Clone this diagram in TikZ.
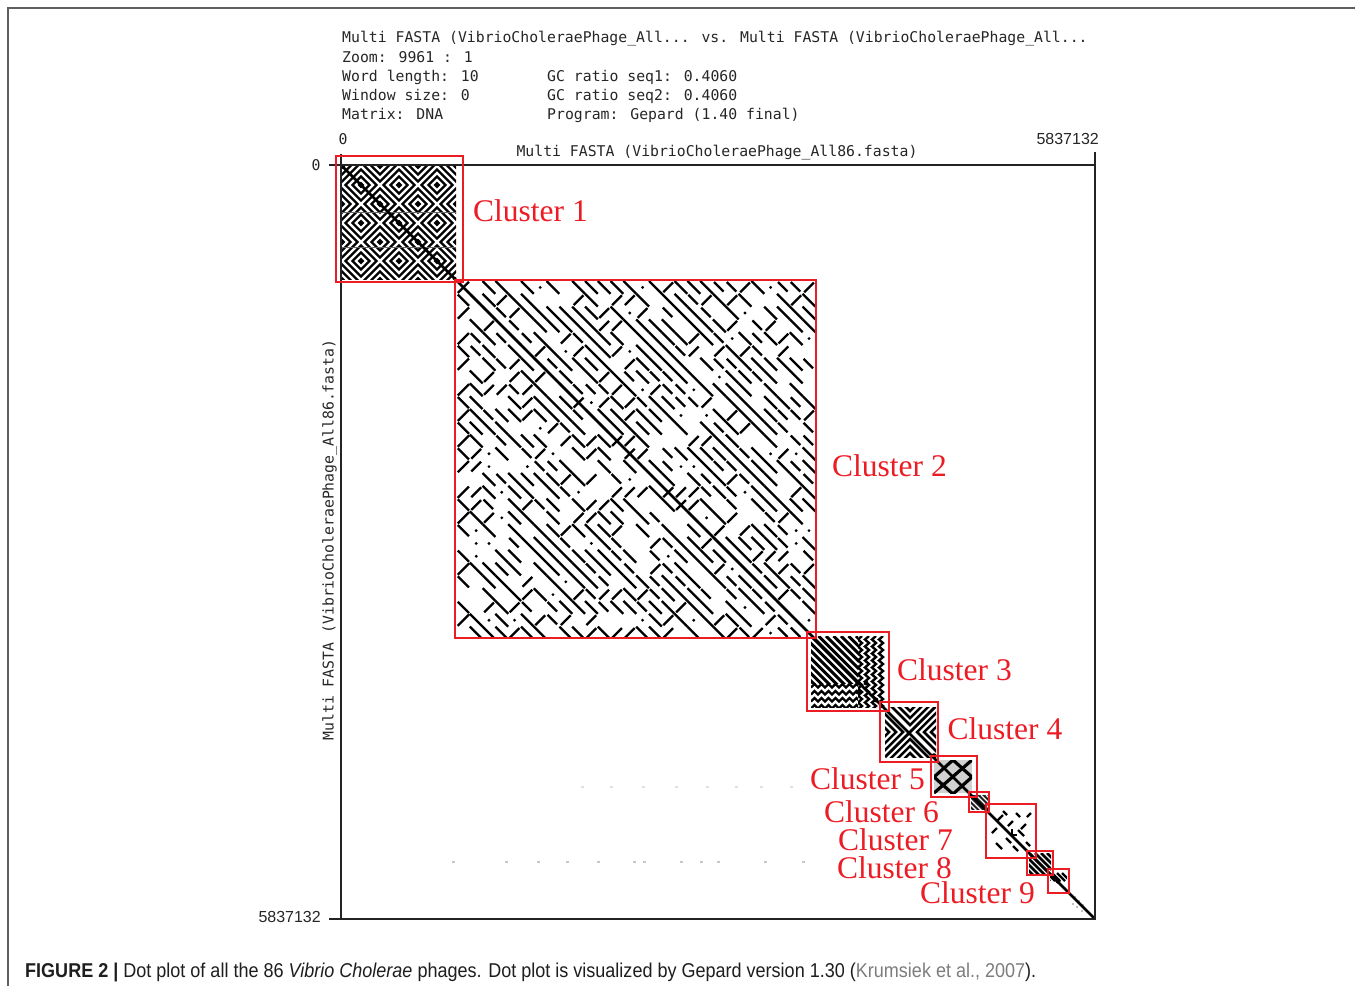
\documentclass[tikz,border=0pt]{standalone}
\usepackage{graphicx}
\usepackage{fontspec}
\setmainfont{Liberation Serif}
\newfontfamily\monof{DejaVu Sans Mono}
\newfontfamily\capf{Liberation Sans}
\usetikzlibrary{calc}
\definecolor{clred}{RGB}{236,28,36}
\definecolor{axisgray}{RGB}{35,35,35}
\definecolor{framegray}{RGB}{95,95,95}
\definecolor{capgray}{RGB}{125,125,125}
\definecolor{captext}{RGB}{30,30,30}
\begin{document}
\begin{tikzpicture}[x=1pt,y=-1pt,
  monotext/.style={font=\monof\fontsize{14.8}{17}\selectfont, inner sep=0pt, text=black!85},
  numtext/.style={font=\capf\fontsize{16}{18}\selectfont, inner sep=0pt, text=black!85},
  cbox/.style={draw=clred, line width=1.4pt},
  clabel/.style={font=\fontsize{31.5}{34}\selectfont, text=clred, inner sep=0pt, anchor=base west},
  dotline/.style={line width=2.3pt, black},
  faint/.style={fill=black!22},
]
\useasboundingbox (0,0) rectangle (1355,986);
\fill[white] (0,0) rectangle (1355,986);
% page frame
\draw[framegray, line width=1.2pt] (8,986) -- (8,8) -- (1355,8);

% header
\node[monotext, anchor=base west] (h1) at (342,42.5) {Multi FASTA (VibrioCholeraePhage\_All... vs. Multi FASTA (VibrioCholeraePhage\_All...};
\node[monotext, anchor=base west] (h2) at (342,62) {Zoom: 9961 : 1};
\node[monotext, anchor=base west] (h3) at (342,81) {Word length: 10};
\node[monotext, anchor=base west] (h4) at (342,100) {Window size: 0};
\node[monotext, anchor=base west] (h5) at (342,119.5) {Matrix: DNA};
\node[monotext, anchor=base west] (g1) at (547,81) {GC ratio seq1: 0.4060};
\node[monotext, anchor=base west] (g2) at (547,100) {GC ratio seq2: 0.4060};
\node[monotext, anchor=base west] (g3) at (547,119.5) {Program: Gepard (1.40 final)};

% axes
\coordinate (tl) at (341,165);
\coordinate (br) at (1095,919);
\node[monotext, anchor=base] (x0) at (343,144) {0};
\node[numtext, anchor=base east] (xmax) at (1099,144) {5837132};
\node[monotext, anchor=base] (y0) at (316,170.5) {0};
\node[numtext, anchor=base east] (ymax) at (321,922.5) {5837132};
\node[monotext, anchor=base] (xlab) at (717,156.5) {Multi FASTA (VibrioCholeraePhage\_All86.fasta)};
\node[monotext, anchor=base, rotate=90] (ylab) at (333.5,540) {Multi FASTA (VibrioCholeraePhage\_All86.fasta)};

% ---------- dot plot patterns ----------
% cluster 1 : concentric diamond tiling
\begin{scope}
\clip (342,166) rectangle (456,279);
\foreach \i in {-1,...,3}{
  \foreach \j in {-1,...,3}{
    \foreach \dx/\dy in {0/0,19/19}{
      \foreach \r in {1.8,8.5,15.5}{
        \draw[line width=2.2pt, shift={(342+19+38*\i+\dx,166+19+38*\j+\dy)}]
          (\r,0) -- (0,\r) -- (-\r,0) -- (0,-\r) -- cycle;
      }
    }
  }
}
\draw[black!60, line width=1pt] (342,212) -- (456,212);
\draw[black!60, line width=1pt] (342,247) -- (456,247);
\end{scope}

% cluster 2 : diagonal dashes
\pgfmathsetseed{23}
\begin{scope}
\clip (456,281) rectangle (815,637);
\foreach \i in {0,...,27}{
  \foreach \j in {0,...,27}{
    \pgfmathtruncatemacro\rr{random(1,20)}
    \pgfmathsetmacro\xx{457+12.8*\i}
    \pgfmathsetmacro\yy{281+12.8*\j}
    \pgfmathtruncatemacro\jpar{mod(\j,2)}
    \ifnum\i=0
      \ifnum\rr<17
        \ifnum\jpar=0
          \draw[dotline] (\xx+12,\yy+0.8) -- (\xx+0.8,\yy+12);
        \else
          \draw[dotline] (\xx+0.8,\yy+0.8) -- (\xx+12,\yy+12);
        \fi
      \fi
    \else
    \ifnum\rr<10
      \draw[dotline] (\xx,\yy) -- (\xx+12.8,\yy+12.8);
    \else\ifnum\rr<13
      \draw[dotline] (\xx+1,\yy+1) -- (\xx+10.5,\yy+10.5);
    \else\ifnum\rr<16
      \draw[dotline] (\xx+1.5,\yy+11.3) -- (\xx+11.3,\yy+1.5);
    \else\ifnum\rr=20
      \fill (\xx+6.4,\yy+6.4) circle (1.6);
    \fi\fi\fi\fi
    \fi
  }
}
\end{scope}

% cluster 3
\begin{scope}
\clip (811,636) rectangle (858,683);
\foreach \k in {-60,-52.5,...,60}{
  \draw[line width=3pt] (811+\k,636) -- ++(60,60);
}
\end{scope}
\begin{scope}
\clip (858,636) rectangle (885,707);
\foreach \xx in {858,865,872,879}{
  \draw[line width=2.4pt] (\xx+4,636) \foreach \t in {0,...,10}{ -- (\xx,636+7*\t+3.5) -- (\xx+4,636+7*\t+7) };
}
\end{scope}
\begin{scope}
\clip (811,683) rectangle (858,707);
\foreach \yy in {684,691,698,705}{
  \draw[line width=2.4pt] (811,\yy+3.5) \foreach \t in {0,...,7}{ -- (811+7*\t+3.5,\yy) -- (811+7*\t+7,\yy+3.5) };
}
\end{scope}
\fill (858,683) circle (2.6);
\fill (866,683) circle (2.4);
\fill (858,692) circle (2.4);
\fill (876,700) circle (2.4);

% cluster 4
\begin{scope}
\clip (885,707) rectangle (936,757);
\draw[line width=2.8pt] (885,757) -- (936,706);
\foreach \d in {7,14,21}{
  \draw[line width=2.5pt] (880,732-\d-30) -- (910,732-\d) -- (940,732-\d-30);
  \draw[line width=2.5pt] (880,732+\d+30) -- (910,732+\d) -- (940,732+\d+30);
  \draw[line width=2.5pt] (910-\d-30,702) -- (910-\d,732) -- (910-\d-30,762);
  \draw[line width=2.5pt] (910+\d+30,702) -- (910+\d,732) -- (910+\d+30,762);
}
\end{scope}
\fill (934,756) circle (2.8);

% cluster 5
\fill[black!18] (934,760) rectangle (972,793);
\begin{scope}
\clip (934,760) rectangle (972,793);
\draw[line width=3.2pt] (934,793) -- (972,760);
\draw[line width=3.2pt] (953,760) -- (972,777) -- (953,794) -- (934,777) -- cycle;
\end{scope}

% cluster 6
\fill[black!88] (971,795) rectangle (988,810);
\begin{scope}
\clip (971,795) rectangle (988,810);
\foreach \k in {-20,-15,...,20}{
  \draw[white, line width=1.2pt] (971+\k,795) -- ++(16,16);
}
\end{scope}

% cluster 7
\foreach \a/\b/\c/\d in {997/821/1003/815, 992/833/997/828, 1008/826/1013/821, 1016/813/1020/817,
  1018/830/1024/836, 1021/829/1026/824, 1006/838/1011/843, 996/843/1002/849,
  1026/842/1030/846, 1013/846/1018/851, 1003/811/1007/815, 1027/817/1031/813}{
  \draw[line width=2.3pt] (\a,\b) -- (\c,\d);
}
\draw[line width=2pt] (1012,829) -- (1012,835) -- (1017,835);

% cluster 8
\begin{scope}
\clip (1029,853) rectangle (1051,874);
\foreach \k in {-18,-12,...,18}{
  \draw[line width=2.8pt] (1029+\k,853) -- ++(22,22);
}
\end{scope}

% cluster 9
\begin{scope}
\clip (1050,871) rectangle (1067,891);
\foreach \k in {-10,-5,...,10}{
  \draw[line width=2.4pt] (1050+\k+2,873) -- ++(8,8);
}
\end{scope}
\fill (1058,881) circle (2.6);

% faint marks
\foreach \xx in {452,505,537,566,597,633,643,680,700,717,764,802}{
  \fill[faint] (\xx,861) rectangle ++(3,2);
}
\foreach \xx in {581,610,642,675,706,735,760,790}{
  \fill[black!12] (\xx,786) rectangle ++(3,2);
}
\foreach \xx/\yy in {1074/896,1078/900,1082/904,1076/906,1081/910,1072/903}{
  \fill[black!25] (\xx,\yy) rectangle ++(2,2);
}

% main diagonal and axis box
\draw[line width=2.6pt] (tl) -- (br);
\draw[axisgray, line width=1.3pt] (tl) rectangle (br);
\draw[axisgray, line width=1.2pt] (341,154) -- (tl);
\draw[axisgray, line width=1.2pt] (1095,152) -- (1095,165);
\draw[axisgray, line width=1.2pt] (329,165) -- (tl);
\draw[axisgray, line width=1.2pt] (329,919) -- (341,919);

% cluster boxes
\draw[cbox] (336,156) rectangle (463,282);
\draw[cbox] (455,280) rectangle (816,638);
\draw[cbox] (807,632) rectangle (889,711);
\draw[cbox] (880,702) rectangle (938,762);
\draw[cbox] (931,756) rectangle (977,797);
\draw[cbox] (969,792) rectangle (989,812);
\draw[cbox] (986,804) rectangle (1036,858);
\draw[cbox] (1027,851) rectangle (1053,875);
\draw[cbox] (1048,869) rectangle (1069,893);

% cluster labels
\node[clabel] (c1) at (473,221) {Cluster 1};
\node[clabel] (c2) at (832,476) {Cluster 2};
\node[clabel] (c3) at (897,680) {Cluster 3};
\node[clabel] (c4) at (947.5,739) {Cluster 4};
\node[clabel] (c5) at (810,789) {Cluster 5};
\node[clabel] (c6) at (824,822) {Cluster 6};
\node[clabel] (c7) at (838,850) {Cluster 7};
\node[clabel] (c8) at (837,878) {Cluster 8};
\node[clabel] (c9) at (920,903) {Cluster 9};

% caption
\node[anchor=base west, inner sep=0pt, text=captext] (cap) at (25,977.3)
  {\resizebox{1011pt}{\height}{\capf\fontsize{20}{22}\selectfont\textbf{FIGURE 2 |} Dot plot of all the 86 \textit{Vibrio Cholerae} phages. Dot plot is visualized by Gepard version 1.30 (\textcolor{capgray}{Krumsiek et al., 2007}).}};
\end{tikzpicture}
\end{document}
